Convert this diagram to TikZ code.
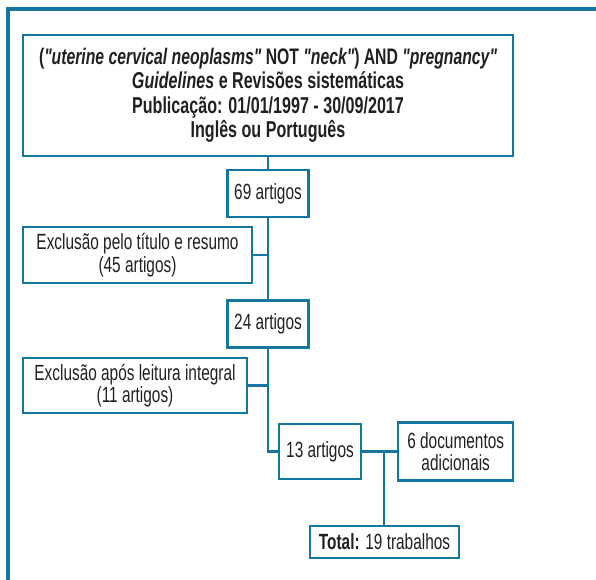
\documentclass[tikz,border=0pt]{standalone}
\usepackage{fontspec}
\newfontfamily\flowfont{Liberation Sans}[FakeStretch=0.70]
\usepackage{xcolor}
\usetikzlibrary{positioning, calc}

\definecolor{flowblue}{RGB}{18,118,160}
\definecolor{flowtext}{RGB}{35,31,32}

\begin{document}
\begin{tikzpicture}[
    x=1pt, y=-1pt,
    box/.style={draw=flowblue, line width=2.2pt, inner sep=0pt, align=center,
        text=flowtext, font=\flowfont\fontsize{22}{22.5}\selectfont},
    link/.style={draw=flowblue, line width=2.2pt},
    frame/.style={draw=flowblue, line width=3.5pt}
]
    \useasboundingbox (0,0) rectangle (596,579);

    % Outer frame
    \draw[frame] (8,620) |- (640,9);

    % Search strategy
    \node[box, minimum width=490pt, minimum height=121pt,
        font=\flowfont\bfseries\fontsize{23}{24.5}\selectfont] (query) at (268,95.5)
        {{\fontsize{22.5}{24.5}\selectfont({\itshape"uterine cervical neoplasms"} NOT {\itshape"neck"}) AND {\itshape"pregnancy"}}\\
         {\itshape Guidelines} e Revisões sistemáticas\\
         Publicação: 01/01/1997 - 30/09/2017\\
         Inglês ou Português};

    % Main trunk
    \node[box, below=12pt of query, minimum width=81pt, minimum height=47pt] (n69) {69 artigos};
    \node[box, minimum width=229pt, minimum height=56pt] (excl1) at (137.5,255)
        {Exclusão pelo título e resumo\\(45 artigos)};
    \node[box, below=81pt of n69, minimum width=81pt, minimum height=47pt] (n24) {24 artigos};
    \node[box, minimum width=224pt, minimum height=55pt] (excl2) at (135,385.5)
        {Exclusão após leitura integral\\(11 artigos)};
    \node[box, minimum width=82pt, minimum height=55pt] (n13) at (320,451.5) {13 artigos};

    % Additional documents and total
    \node[box, right=35pt of n13, minimum width=115pt, minimum height=58pt] (docs)
        {6 documentos\\adicionais};
    \node[box, minimum width=149pt, minimum height=32pt] (total) at (384.5,542)
        {\textbf{Total:} 19 trabalhos};

    % Connectors
    \draw[link] (query) -- (n69);
    \draw[link] (n69) -- (n24);
    \draw[link] (excl1.east) -- (excl1.east -| n69.south);
    \draw[link] (n24.south) |- (n13);
    \draw[link] (excl2.east) -- (excl2.east -| n24.south);
    \draw[link] (n13.east) -- (n13.east -| docs.west);
    \coordinate (join) at ($(n13.east)!0.63!(n13.east -| docs.west)$);
    \draw[link] (join) -- (join |- total.north);
\end{tikzpicture}
\end{document}
